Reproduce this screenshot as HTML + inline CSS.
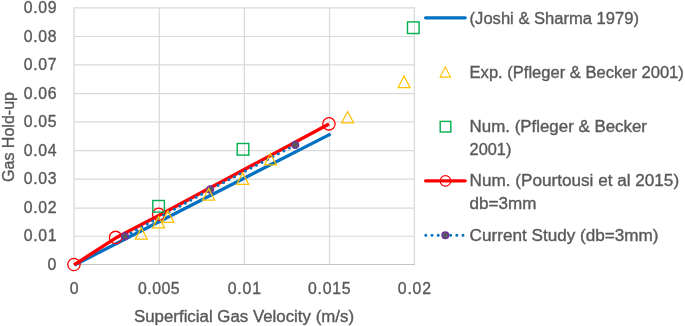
<!DOCTYPE html><html><head><meta charset="utf-8"><style>html,body{margin:0;padding:0;background:#fff;}svg{display:block;will-change:transform;}text{font-family:"Liberation Sans",sans-serif;font-size:15.8px;fill:#595959;stroke:#595959;stroke-width:0.35px;}</style></head><body>
<svg width="685" height="326" viewBox="0 0 685 326">
<rect width="685" height="326" fill="#fff"/>
<g stroke="#d9d9d9" stroke-width="1.2" fill="none"><line x1="74.05" y1="236.25" x2="414.90" y2="236.25"/><line x1="74.05" y1="208.10" x2="414.90" y2="208.10"/><line x1="74.05" y1="179.20" x2="414.90" y2="179.20"/><line x1="74.05" y1="150.70" x2="414.90" y2="150.70"/><line x1="74.05" y1="121.80" x2="414.90" y2="121.80"/><line x1="74.05" y1="93.60" x2="414.90" y2="93.60"/><line x1="74.05" y1="64.90" x2="414.90" y2="64.90"/><line x1="74.05" y1="36.50" x2="414.90" y2="36.50"/><line x1="74.05" y1="7.80" x2="414.90" y2="7.80"/><line x1="74.05" y1="7.20" x2="74.05" y2="264.50" stroke-width="1.35"/><line x1="159.25" y1="7.20" x2="159.25" y2="264.50"/><line x1="244.30" y1="7.20" x2="244.30" y2="264.50"/><line x1="329.55" y1="7.20" x2="329.55" y2="264.50"/><line x1="414.40" y1="7.20" x2="414.40" y2="264.50"/></g>
<line x1="73.45" y1="264.50" x2="415.00" y2="264.50" stroke="#c4c4c4" stroke-width="1.2"/>
<text x="56.2" y="270.30" text-anchor="end" textLength="8.9">0</text>
<text x="56.55" y="241.30" text-anchor="end" textLength="32.9" lengthAdjust="spacing">0.01</text>
<text x="56.55" y="213.15" text-anchor="end" textLength="32.9" lengthAdjust="spacing">0.02</text>
<text x="56.55" y="184.25" text-anchor="end" textLength="32.9" lengthAdjust="spacing">0.03</text>
<text x="56.55" y="155.75" text-anchor="end" textLength="32.9" lengthAdjust="spacing">0.04</text>
<text x="56.55" y="126.85" text-anchor="end" textLength="32.9" lengthAdjust="spacing">0.05</text>
<text x="56.55" y="98.65" text-anchor="end" textLength="32.9" lengthAdjust="spacing">0.06</text>
<text x="56.55" y="69.95" text-anchor="end" textLength="32.9" lengthAdjust="spacing">0.07</text>
<text x="56.55" y="41.55" text-anchor="end" textLength="32.9" lengthAdjust="spacing">0.08</text>
<text x="56.55" y="12.85" text-anchor="end" textLength="32.9" lengthAdjust="spacing">0.09</text>
<text x="74.05" y="293.7" text-anchor="middle" textLength="8.9" lengthAdjust="spacing">0</text>
<text x="158.85" y="293.7" text-anchor="middle" textLength="41.6" lengthAdjust="spacing">0.005</text>
<text x="244.30" y="293.7" text-anchor="middle" textLength="33.3" lengthAdjust="spacing">0.01</text>
<text x="329.25" y="293.7" text-anchor="middle" textLength="42.5" lengthAdjust="spacing">0.015</text>
<text x="414.40" y="293.7" text-anchor="middle" textLength="33.1" lengthAdjust="spacing">0.02</text>
<text x="134" y="321.7" textLength="220" lengthAdjust="spacingAndGlyphs">Superficial Gas Velocity (m/s)</text>
<text transform="translate(13.7,182.0) rotate(-90)" textLength="90" lengthAdjust="spacingAndGlyphs">Gas Hold-up</text>
<line x1="74.6" y1="264.95" x2="329.35" y2="134.65" stroke="#0070c0" stroke-width="3.3" stroke-linecap="butt"/>
<circle cx="329.35" cy="134.65" r="1.65" fill="#0070c0"/>
<polyline points="74.00,264.90 115.60,238.10 158.80,215.40 328.95,124.10" fill="none" stroke="#ff0000" stroke-width="3.4" stroke-linejoin="round" stroke-linecap="butt"/>
<circle cx="73.95" cy="264.50" r="6.15" fill="none" stroke="#ff0000" stroke-width="1.3"/>
<circle cx="115.60" cy="237.40" r="6.15" fill="none" stroke="#ff0000" stroke-width="1.3"/>
<circle cx="158.60" cy="214.30" r="6.15" fill="none" stroke="#ff0000" stroke-width="1.3"/>
<circle cx="328.95" cy="123.85" r="6.15" fill="none" stroke="#ff0000" stroke-width="1.3"/>
<rect x="152.80" y="200.50" width="11.60" height="11.60" fill="none" stroke="#00b050" stroke-width="1.4"/>
<rect x="237.20" y="143.50" width="11.60" height="11.60" fill="none" stroke="#00b050" stroke-width="1.4"/>
<rect x="407.50" y="21.90" width="11.60" height="11.60" fill="none" stroke="#00b050" stroke-width="1.4"/>
<polyline points="124.90,236.30 210.10,189.50 295.20,144.90" fill="none" stroke="#0070c0" stroke-width="3.1" stroke-dasharray="0 6.2" stroke-dashoffset="-0.7" stroke-linecap="round"/>
<circle cx="124.90" cy="236.30" r="3.4" fill="#595959" stroke="#7030a0" stroke-width="1.5"/>
<circle cx="210.10" cy="189.50" r="3.4" fill="#595959" stroke="#7030a0" stroke-width="1.5"/>
<circle cx="295.20" cy="144.90" r="3.4" fill="#595959" stroke="#7030a0" stroke-width="1.5"/>
<path d="M141.30,227.75 L147.30,239.15 L135.30,239.15 Z" fill="none" stroke="#ffc000" stroke-width="1.25" stroke-linejoin="miter"/>
<path d="M158.60,216.45 L164.60,227.85 L152.60,227.85 Z" fill="none" stroke="#ffc000" stroke-width="1.25" stroke-linejoin="miter"/>
<path d="M167.90,210.95 L173.90,222.35 L161.90,222.35 Z" fill="none" stroke="#ffc000" stroke-width="1.25" stroke-linejoin="miter"/>
<path d="M208.60,188.65 L214.60,200.05 L202.60,200.05 Z" fill="none" stroke="#ffc000" stroke-width="1.25" stroke-linejoin="miter"/>
<path d="M242.70,173.05 L248.70,184.45 L236.70,184.45 Z" fill="none" stroke="#ffc000" stroke-width="1.25" stroke-linejoin="miter"/>
<path d="M270.40,153.55 L276.40,164.95 L264.40,164.95 Z" fill="none" stroke="#ffc000" stroke-width="1.25" stroke-linejoin="miter"/>
<path d="M347.60,111.55 L353.60,122.95 L341.60,122.95 Z" fill="none" stroke="#ffc000" stroke-width="1.25" stroke-linejoin="miter"/>
<path d="M404.10,76.15 L410.10,87.55 L398.10,87.55 Z" fill="none" stroke="#ffc000" stroke-width="1.25" stroke-linejoin="miter"/>
<line x1="425.6" y1="17.8" x2="465.2" y2="17.8" stroke="#0070c0" stroke-width="3.3" stroke-linecap="round"/>
<path d="M445.30,66.90 L450.55,77.10 L440.05,77.10 Z" fill="none" stroke="#ffc000" stroke-width="1.1" stroke-linejoin="miter"/>
<rect x="440.20" y="121.40" width="10.60" height="10.60" fill="none" stroke="#00b050" stroke-width="1.4"/>
<line x1="425.6" y1="180.8" x2="465.2" y2="180.8" stroke="#ff0000" stroke-width="3.2" stroke-linecap="round"/>
<circle cx="445.45" cy="180.90" r="5.3" fill="none" stroke="#ff0000" stroke-width="1.2"/>
<line x1="425.8" y1="235.2" x2="465.7" y2="235.2" stroke="#0070c0" stroke-width="3.0" stroke-dasharray="0 6.2" stroke-linecap="round"/>
<circle cx="445.35" cy="235.20" r="3.3" fill="#595959" stroke="#7030a0" stroke-width="1.5"/>
<text x="469.6" y="23.5" textLength="169.4" lengthAdjust="spacingAndGlyphs">(Joshi &amp; Sharma 1979)</text>
<text x="469.6" y="77.6" textLength="214.2" lengthAdjust="spacingAndGlyphs">Exp. (Pfleger &amp; Becker 2001)</text>
<text x="469.6" y="131.8" textLength="177.4" lengthAdjust="spacingAndGlyphs">Num. (Pfleger &amp; Becker</text>
<text x="469.6" y="154.5" textLength="41.8" lengthAdjust="spacingAndGlyphs">2001)</text>
<text x="469.6" y="185.8" textLength="209.5" lengthAdjust="spacingAndGlyphs">Num. (Pourtousi et al 2015)</text>
<text x="469.6" y="208.7" textLength="66.8" lengthAdjust="spacingAndGlyphs">db=3mm</text>
<text x="469.6" y="241.0" textLength="189.0" lengthAdjust="spacingAndGlyphs">Current Study (db=3mm)</text>
</svg></body></html>
